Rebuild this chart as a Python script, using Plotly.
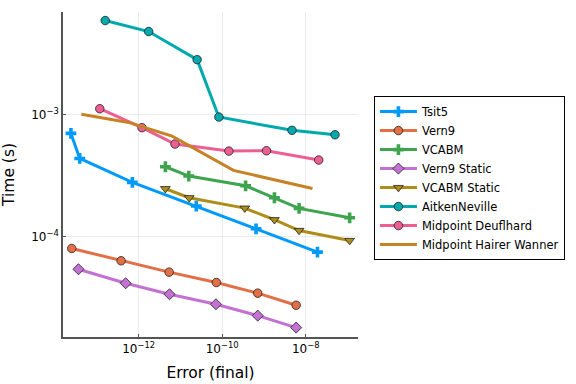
import plotly.graph_objects as go

# log10 values
tsit5_x = [-13.62, -13.41, -12.15, -10.62, -9.19, -7.72]
tsit5_y = [-3.156, -3.361, -3.557, -3.751, -3.937, -4.128]

vern9_x = [-13.60, -12.42, -11.27, -10.14, -9.15, -8.23]
vern9_y = [-4.098, -4.199, -4.292, -4.377, -4.464, -4.563]

vcabm_x = [-11.36, -10.80, -9.44, -8.75, -8.16, -6.95]
vcabm_y = [-3.429, -3.505, -3.585, -3.683, -3.770, -3.847]

vern9s_x = [-13.44, -12.31, -11.26, -10.15, -9.15, -8.23]
vern9s_y = [-4.268, -4.383, -4.473, -4.555, -4.648, -4.746]

vcabms_x = [-11.36, -10.79, -9.46, -8.75, -8.16, -6.95]
vcabms_y = [-3.609, -3.683, -3.768, -3.863, -3.951, -4.033]

aitken_x = [-12.80, -11.76, -10.60, -10.08, -8.33, -7.30]
aitken_y = [-2.232, -2.322, -2.552, -3.022, -3.131, -3.167]

deuf_x = [-12.93, -11.92, -11.13, -9.84, -8.94, -7.69]
deuf_y = [-2.954, -3.109, -3.243, -3.301, -3.298, -3.374]

hw_x = [-13.37, -12.24, -11.20, -10.31, -9.73, -7.84]
hw_y = [-3.000, -3.066, -3.178, -3.348, -3.459, -3.607]

names = ["Tsit5", "Vern9", "VCABM", "Vern9 Static", "VCABM Static",
         "AitkenNeville", "Midpoint Deuflhard", "Midpoint Hairer Wanner"]
colors = ["#009AFA", "#E36F47", "#3EA44E", "#C371D2", "#AC8E18",
          "#00A9AD", "#ED5E93", "#C68225"]
symbols = ["cross", "circle", "cross", "diamond", "triangle-down",
           "circle", "circle", None]
xs = [tsit5_x, vern9_x, vcabm_x, vern9s_x, vcabms_x, aitken_x, deuf_x, hw_x]
ys = [tsit5_y, vern9_y, vcabm_y, vern9s_y, vcabms_y, aitken_y, deuf_y, hw_y]

fig = go.Figure()
for name, c, s, x, y in zip(names, colors, symbols, xs, ys):
    xv = [10 ** v for v in x]
    yv = [10 ** v for v in y]
    if s is None:
        fig.add_trace(go.Scatter(x=xv, y=yv, mode="lines", name=name,
                                 line=dict(color=c, width=3)))
    else:
        if s == "cross":
            mk = dict(symbol=s, size=9, color=c, line=dict(width=0))
        else:
            mk = dict(symbol=s, size=8.5, color=c, line=dict(color="#222222", width=0.8))
        fig.add_trace(go.Scatter(x=xv, y=yv, mode="lines+markers", name=name,
                                 line=dict(color=c, width=3), marker=mk))

xt = [1e-12, 1e-10, 1e-8]
xtt = ["10<sup>−12</sup>", "10<sup>−10</sup>", "10<sup>−8</sup>"]
yt = [1e-4, 1e-3]
ytt = ["10<sup>−4</sup>", "10<sup>−3</sup>"]

fig.update_layout(
    width=576, height=384,
    margin=dict(l=63, r=218, t=12, b=47, autoexpand=False),
    paper_bgcolor="white", plot_bgcolor="white",
    font=dict(family="DejaVu Sans", color="black"),
    showlegend=True,
    legend=dict(x=1.054, y=0.489, xanchor="left", yanchor="middle",
                bordercolor="black", borderwidth=1, bgcolor="white",
                font=dict(size=11.5), itemwidth=37, tracegroupgap=0),
    xaxis=dict(type="log", range=[-13.81, -6.75], tickvals=xt, ticktext=xtt,
               showgrid=True, gridcolor="rgba(0,0,0,0.08)", gridwidth=1,
               showline=True, linecolor="#555555", linewidth=1.5,
               ticks="inside", ticklen=3, tickcolor="#555555",
               tickfont=dict(size=12), zeroline=False, automargin=False,
               title=dict(text="Error (final)", font=dict(size=15.5), standoff=12)),
    yaxis=dict(type="log", range=[-4.823, -2.162], tickvals=yt, ticktext=ytt,
               showgrid=True, gridcolor="rgba(0,0,0,0.08)", gridwidth=1,
               showline=True, linecolor="#555555", linewidth=1.5,
               ticks="inside", ticklen=3, tickcolor="#555555",
               tickfont=dict(size=12), zeroline=False, automargin=False,
               title=dict(text="Time (s)", font=dict(size=15.5), standoff=14)),
)

fig.write_html("out.html", config={"displayModeBar": False},
               post_script="document.body.style.margin='0';")
